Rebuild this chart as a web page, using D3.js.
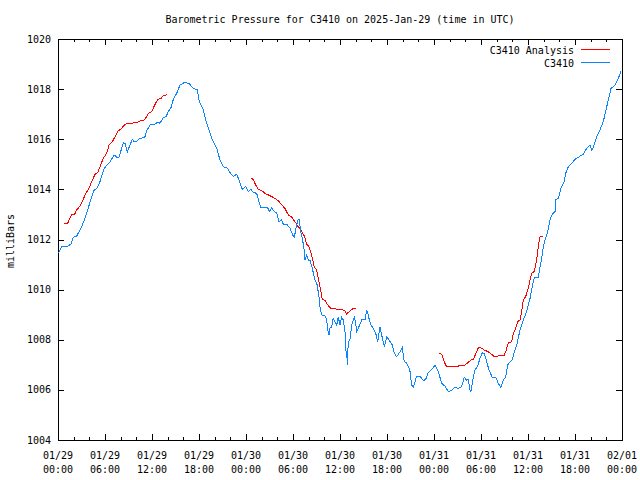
<!DOCTYPE html>
<html><head><meta charset="utf-8">
<script src="https://cdn.jsdelivr.net/npm/d3@7"></script>
<style>body{margin:0;background:#fff}svg{display:block}</style>
</head><body><svg id="c" width="640" height="480"></svg>
<script>
// ---- data (hours after 2025-01-29 00:00 UTC, pressure in mb) ----
const stationHours = [0.06,0.47,1.11,1.66,1.95,2.39,2.68,3.03,3.45,3.87,4.30,4.63,4.94,5.36,5.91,6.22,6.64,7.19,7.49,7.79,8.34,8.55,8.85,9.19,9.49,9.74,10.05,10.25,10.68,11.11,11.32,11.74,12.38,12.73,13.02,13.44,13.79,14.08,14.43,14.72,15.15,15.57,16.12,16.72,17.27,17.78,18.04,18.55,18.86,19.28,19.70,20.26,20.68,21.10,21.66,21.96,22.38,22.81,23.11,23.53,23.96,24.29,24.64,24.93,25.37,25.57,25.91,26.34,26.77,26.97,27.28,27.61,27.92,28.21,28.56,28.76,29.20,29.62,29.96,30.17,30.38,30.68,30.80,30.98,31.19,31.40,31.53,31.75,31.95,32.17,32.46,32.81,33.10,33.15,33.32,33.49,33.74,34.09,34.30,34.43,34.60,34.72,34.94,35.14,35.36,35.58,35.78,36.00,36.22,36.42,36.64,36.77,36.89,36.93,37.06,37.28,37.49,37.83,38.00,38.13,38.34,38.77,39.19,39.41,39.61,39.74,39.96,40.25,40.56,40.81,41.11,41.32,41.66,41.96,42.26,42.68,42.93,43.24,43.66,43.95,44.21,44.51,44.81,44.94,45.15,45.36,45.79,46.21,46.63,46.94,47.27,47.70,48.13,48.55,48.98,49.40,49.82,50.26,50.68,51.10,51.45,51.61,51.87,52.17,52.38,52.60,52.72,52.94,53.23,53.58,53.87,54.17,54.42,54.73,55.02,55.44,55.88,56.21,56.52,56.85,57.15,57.41,57.70,57.99,58.25,58.56,58.98,59.40,59.83,60.26,60.55,60.80,61.31,61.53,61.75,61.95,62.17,62.51,62.81,63.10,63.45,63.54,63.87,64.21,64.63,64.81,65.14,65.58,66.00,66.51,67.06,67.49,67.91,68.13,68.34,68.77,69.19,69.61,69.96,70.25,70.60,71.11,71.53,71.87];
const stationPressure = [1011.46,1011.71,1011.71,1011.82,1012.09,1012.14,1012.31,1012.51,1012.86,1013.26,1013.71,1013.98,1014.03,1014.31,1014.84,1014.97,1015.10,1015.37,1015.28,1015.28,1015.86,1015.84,1015.50,1015.77,1016.00,1015.90,1015.90,1016.00,1016.04,1016.10,1016.33,1016.57,1016.61,1016.68,1016.64,1016.86,1016.90,1017.10,1017.27,1017.59,1017.83,1018.16,1018.26,1018.23,1018.03,1017.97,1017.50,1017.17,1016.77,1016.37,1015.97,1015.64,1015.17,1014.90,1014.84,1014.67,1014.51,1014.61,1014.37,1014.00,1014.11,1013.91,1014.00,1013.88,1013.84,1013.60,1013.27,1013.27,1013.27,1013.11,1013.27,1013.11,1013.05,1012.71,1012.78,1012.61,1012.61,1012.45,1012.18,1012.09,1012.45,1012.81,1012.81,1012.31,1012.05,1011.65,1011.18,1011.38,1011.18,1011.18,1010.85,1010.38,1010.18,1010.05,1009.72,1009.19,1008.95,1008.95,1008.79,1008.39,1008.19,1008.46,1008.52,1008.86,1008.72,1008.59,1008.90,1008.59,1008.90,1008.79,1008.32,1007.52,1007.32,1006.99,1007.92,1008.02,1008.59,1008.90,1008.66,1008.32,1008.46,1008.79,1008.79,1009.19,1008.99,1008.79,1008.59,1008.46,1008.26,1007.92,1008.50,1008.19,1007.72,1008.12,1007.99,1007.79,1007.46,1007.32,1007.52,1007.70,1007.12,1007.08,1006.86,1006.73,1006.19,1006.10,1006.55,1006.55,1006.37,1006.42,1006.69,1006.82,1006.98,1006.73,1006.26,1006.15,1005.93,1005.99,1006.10,1006.06,1006.10,1006.23,1006.50,1006.39,1006.42,1006.00,1005.93,1006.39,1006.79,1006.95,1007.26,1007.48,1007.46,1007.12,1006.79,1006.50,1006.50,1006.26,1006.10,1006.39,1006.50,1006.99,1007.12,1007.19,1007.52,1007.79,1008.39,1008.79,1009.12,1009.65,1010.12,1010.49,1010.49,1010.91,1011.25,1011.71,1011.98,1012.31,1012.78,1013.01,1013.11,1013.58,1013.64,1014.04,1014.31,1014.64,1014.90,1015.04,1015.20,1015.30,1015.40,1015.64,1015.77,1015.57,1015.68,1016.10,1016.37,1016.70,1017.17,1017.57,1018.03,1018.16,1018.43,1018.70];

const analysisHours1 = [0.80,1.24,1.53,1.75,2.08,2.39,2.81,3.10,3.54,3.87,4.30,4.72,5.07,5.36,5.78,6.22,6.51,6.93,7.28,7.70,8.04,8.34,8.77,9.19,10.05,10.60,11.02,11.32,11.53,11.96,12.29,12.73,13.15,13.44,13.88];
const analysisPressure1 = [1012.65,1012.65,1012.85,1012.98,1012.98,1013.18,1013.34,1013.51,1013.84,1013.98,1014.31,1014.60,1014.67,1014.90,1015.24,1015.44,1015.77,1015.90,1016.10,1016.34,1016.40,1016.53,1016.64,1016.64,1016.66,1016.74,1016.77,1016.90,1017.04,1017.10,1017.33,1017.59,1017.63,1017.73,1017.77];
const analysisHours2 = [24.64,24.93,25.24,25.57,26.00,26.43,26.85,27.28,27.70,28.12,28.56,28.98,29.40,29.83,30.26,30.60,31.02,31.44,31.75,32.04,32.30,32.46,32.72,33.02,33.32,33.57,33.74,34.09,34.43,34.85,35.36,36.22,36.64,36.85,37.28,37.70,38.00];
const analysisPressure2 = [1014.44,1014.40,1014.17,1014.00,1013.95,1013.84,1013.78,1013.71,1013.64,1013.55,1013.38,1013.24,1012.98,1012.89,1012.71,1012.54,1012.38,1012.14,1011.82,1011.71,1011.45,1011.25,1010.91,1010.78,1010.32,1009.92,1009.61,1009.56,1009.39,1009.25,1009.23,1009.21,1009.15,1009.03,1009.15,1009.25,1009.25];
const analysisHours3 = [48.68,48.98,49.19,49.49,49.62,50.46,51.10,51.45,51.87,52.30,52.72,53.02,53.32,53.66,54.00,54.42,54.93,55.37,55.70,56.13,56.64,56.97,57.19,57.48,57.92,58.12,58.43,58.68,58.98,59.19,59.40,59.70,60.04,60.26,60.47,60.80,61.11,61.31,61.53,61.95];
const analysisPressure3 = [1007.46,1007.42,1007.22,1006.99,1006.95,1006.95,1006.95,1006.98,1006.98,1007.08,1007.19,1007.22,1007.43,1007.68,1007.68,1007.59,1007.52,1007.42,1007.32,1007.35,1007.39,1007.39,1007.56,1007.88,1007.92,1008.26,1008.46,1008.72,1008.79,1009.12,1009.59,1009.72,1010.05,1010.38,1010.65,1010.72,1011.18,1011.71,1012.11,1012.11];

const yTicks = [1004,1006,1008,1010,1012,1014,1016,1018,1020];
const xTickHours = [0,6,12,18,24,30,36,42,48,54,60,66,72];
const xMinorHours = d3.range(0, 73, 2);
const seriesNames = ["C3410 Analysis", "C3410"];
const seriesColors = ["#ff0000", "#0a85ff"];
const titleText = "Barometric Pressure for C3410 on 2025-Jan-29 (time in UTC)";
const yLabel = "milliBars";

// ---- drawing ----
const FONT = "DejaVu Sans Mono, monospace";
const start = Date.UTC(2025, 0, 29);
const toDate = h => new Date(start + h * 3600e3);
const L = 58, R = 622, T = 39, B = 440;

const svg = d3.select("#c");
svg.append("rect").attr("width", 640).attr("height", 480).attr("fill", "#fff");

const x = d3.scaleUtc().domain([toDate(0), toDate(72)]).range([L, R]);
const y = d3.scaleLinear().domain([1004, 1020]).range([B, T]);

// ticks (inward, mirrored)
const tk = svg.append("g").attr("stroke", "#000").attr("stroke-width", 1).attr("shape-rendering", "crispEdges");
xMinorHours.forEach(h => {
  const len = (h % 6 === 0) ? 6 : 3;
  const px = Math.round(x(toDate(h))) + 0.5;
  tk.append("line").attr("x1", px).attr("x2", px).attr("y1", B).attr("y2", B - len);
  tk.append("line").attr("x1", px).attr("x2", px).attr("y1", T).attr("y2", T + len);
});
yTicks.forEach(v => {
  const py = Math.round(y(v)) + 0.5;
  tk.append("line").attr("x1", L).attr("x2", L + 6).attr("y1", py).attr("y2", py);
  tk.append("line").attr("x1", R).attr("x2", R - 6).attr("y1", py).attr("y2", py);
});

// frame
svg.append("rect").attr("x", L + 0.5).attr("y", T + 0.5).attr("width", R - L).attr("height", B - T)
  .attr("fill", "none").attr("stroke", "#000").attr("shape-rendering", "crispEdges");

// axis labels
const txt = svg.append("g").attr("font-family", FONT).attr("font-size", 10).attr("fill", "#000");
yTicks.forEach(v => {
  txt.append("text").attr("x", 51).attr("y", y(v) + 3.5).attr("text-anchor", "end").text(v);
});
xTickHours.forEach(h => {
  const d = toDate(h);
  const t = txt.append("text").attr("text-anchor", "middle");
  t.append("tspan").attr("x", x(d)).attr("y", 459).text(d3.utcFormat("%m/%d")(d));
  t.append("tspan").attr("x", x(d)).attr("y", 473).text(d3.utcFormat("%H:%M")(d));
});
txt.append("text").attr("x", 340).attr("y", 23).attr("text-anchor", "middle").text(titleText);
txt.append("text").attr("transform", "translate(14,241) rotate(-90)").attr("text-anchor", "middle").text(yLabel);

// lines
const line = d3.line().x(d => x(toDate(d[0]))).y(d => y(d[1]));
const plot = svg.append("g").attr("fill", "none").attr("stroke-width", 1).attr("shape-rendering", "crispEdges");
[[analysisHours1, analysisPressure1], [analysisHours2, analysisPressure2], [analysisHours3, analysisPressure3]]
  .forEach(([hs, ps]) => {
    plot.append("path").datum(hs.map((h, i) => [h, ps[i]])).attr("stroke", seriesColors[0]).attr("d", line);
  });
plot.append("path").datum(stationHours.map((h, i) => [h, stationPressure[i]]))
  .attr("stroke", seriesColors[1]).attr("d", line);

// legend
seriesNames.forEach((n, i) => {
  const yy = 50 + i * 13;
  txt.append("text").attr("x", 574).attr("y", yy + 3.5).attr("text-anchor", "end").text(n);
  svg.append("line").attr("x1", 581).attr("x2", 610).attr("y1", yy - 0.5).attr("y2", yy - 0.5)
    .attr("stroke", seriesColors[i]).attr("shape-rendering", "crispEdges");
});
</script></body></html>
